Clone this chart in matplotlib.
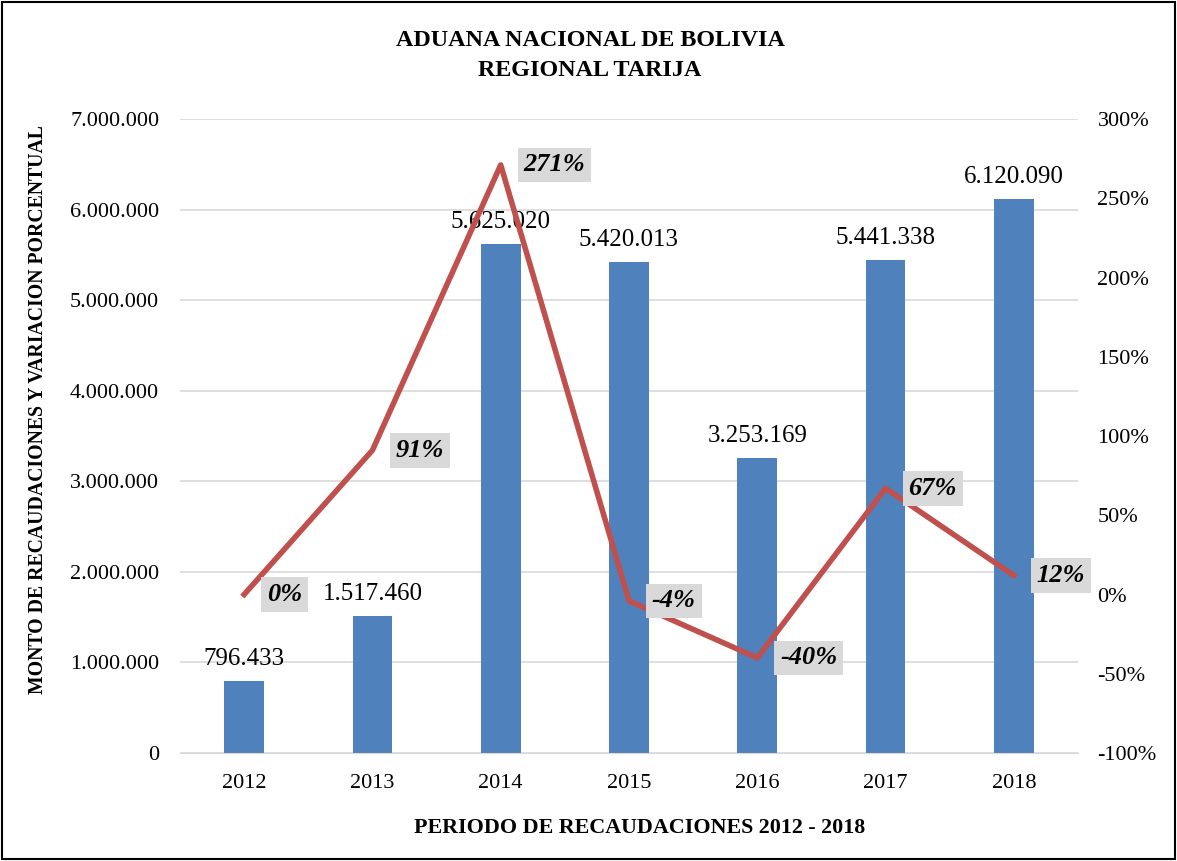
import matplotlib.pyplot as plt
from matplotlib.patches import Rectangle

years = ["2012", "2013", "2014", "2015", "2016", "2017", "2018"]
montos = [796433, 1517460, 5625020, 5420013, 3253169, 5441338, 6120090]
variacion = [0, 91, 271, -4, -40, 67, 12]

plt.rcParams['font.family'] = ['Liberation Serif', 'DejaVu Serif']

fig = plt.figure(figsize=(11.77, 8.61), dpi=100)
ax = fig.add_axes([180 / 1177, 1 - 753 / 861, (1078 - 180) / 1177, (753 - 119) / 861])
ax2 = ax.twinx()

x = list(range(len(years)))
ax.bar(x, montos, width=0.31, color="#4F81BD", zorder=2)
ax.set_xlim(-0.5, len(years) - 0.5)
ax.set_ylim(0, 7000000)
ax.set_yticks(range(0, 7000001, 1000000))
ax.set_yticklabels([f"{v:,}".replace(",", ".") for v in range(0, 7000001, 1000000)])
ax.set_xticks(x)
ax.set_xticklabels(years)
ax.grid(axis="y", color="#D9D9D9", linewidth=1.2, zorder=0)
ax.tick_params(length=0, labelsize=16, pad=15)
ax.tick_params(axis="y", pad=15)
for s in ["top", "right", "left"]:
    ax.spines[s].set_visible(False)
ax.spines["bottom"].set_color("#D9D9D9")

for xi, v in zip(x, montos):
    ax.annotate(f"{v:,}".replace(",", "."), (xi, v), xytext=(0, 11.5),
                textcoords="offset points", ha="center", va="baseline", fontsize=18)

ax2.plot(x, variacion, color="#C0504D", linewidth=4, zorder=3)
ax2.set_ylim(-100, 300)
ax2.set_yticks(range(-100, 301, 50))
ax2.set_yticklabels([f"{v}%" for v in range(-100, 301, 50)])
ax2.tick_params(length=0, labelsize=16, pad=14)
for s in ax2.spines.values():
    s.set_visible(False)

for xi, v in zip(x, variacion):
    ax2.annotate(f"{v}%", (xi, v), xytext=(16.5, 0), textcoords="offset points",
                 ha="left", va="center", fontsize=19, fontweight="bold", style="italic",
                 bbox=dict(boxstyle="square,pad=0.22", facecolor="#D9D9D9", edgecolor="none"))

fig.text(590 / 1177, 1 - 41 / 861, "ADUANA NACIONAL DE BOLIVIA", ha="center", va="center",
         fontsize=17.4, fontweight="bold")
fig.text(590 / 1177, 1 - 71 / 861, "REGIONAL TARIJA", ha="center", va="center",
         fontsize=17.4, fontweight="bold")
fig.text(640 / 1177, 1 - 828 / 861, "PERIODO DE RECAUDACIONES 2012 - 2018", ha="center", va="center",
         fontsize=15.8, fontweight="bold")
fig.text(38 / 1177, 1 - 410 / 861, "MONTO DE RECAUDACIONES Y VARIACION PORCENTUAL",
         ha="center", va="center", rotation=90, fontsize=14.2, fontweight="bold")

fig.patches.append(Rectangle((0.002, 0.002), 0.996, 0.996, transform=fig.transFigure,
                             fill=False, edgecolor="black", linewidth=1.5))

fig.savefig("out.png", dpi=100)
